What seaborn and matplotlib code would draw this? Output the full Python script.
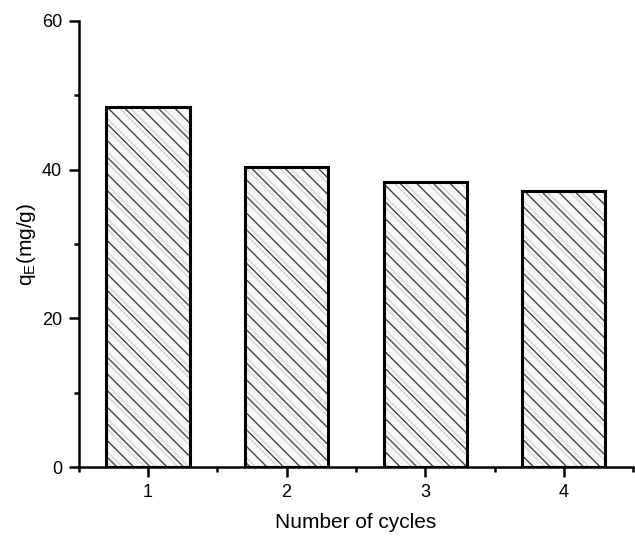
import matplotlib
matplotlib.use('Agg')
import matplotlib.pyplot as plt
import seaborn as sns
from matplotlib.ticker import MultipleLocator

# values
cycles = ['1', '2', '3', '4']
qe = [48.4, 40.3, 38.3, 37.1]

sns.set_style('ticks')
plt.rcParams['font.family'] = ['Liberation Sans', 'DejaVu Sans']
plt.rcParams['mathtext.fontset'] = 'custom'
plt.rcParams['mathtext.rm'] = 'Liberation Sans'
plt.rcParams['text.color'] = 'black'
plt.rcParams['axes.labelcolor'] = 'black'
plt.rcParams['hatch.linewidth'] = 0.9

fig = plt.figure(figsize=(6.35, 5.37), dpi=100)
ax = fig.add_axes([0.124, 0.130, 0.873, 0.831])

# three layers: light grey hatch, dark hatch, black outline
layers = [('\\\\\\', '#d4d4d4', '#f8f8f8'), ('\\\\', '#3a3a3a', 'none'), ('', 'black', 'none')]
for hatch, ec, fc in layers:
    start = len(ax.patches)
    sns.barplot(x=cycles, y=qe, color='white', width=0.6, ax=ax, saturation=1)
    for p in ax.patches[start:]:
        p.set_facecolor(fc)
        p.set_hatch(hatch)
        p.set_edgecolor(ec)
        p.set_linewidth(2.2 if hatch == '' else 0)

ax.set_xlim(-0.5, 3.5)
ax.set_ylim(0, 60)
ax.yaxis.set_major_locator(MultipleLocator(20))
ax.yaxis.set_minor_locator(MultipleLocator(10))
ax.xaxis.set_minor_locator(MultipleLocator(1, offset=0.5))

sns.despine(ax=ax)
for s in ['left', 'bottom']:
    ax.spines[s].set_linewidth(1.8)
    ax.spines[s].set_color('black')
ax.tick_params(which='major', length=7, width=1.8, direction='out', labelsize=13,
               colors='black', pad=5)
ax.tick_params(which='minor', length=3.5, width=1.8, direction='out', colors='black')

ax.set_xlabel('Number of cycles', fontsize=15, labelpad=9)
ax.set_ylabel(r'q$_\mathregular{E}$(mg/g)', fontsize=15, labelpad=3)

fig.savefig('out.png', dpi=100)
